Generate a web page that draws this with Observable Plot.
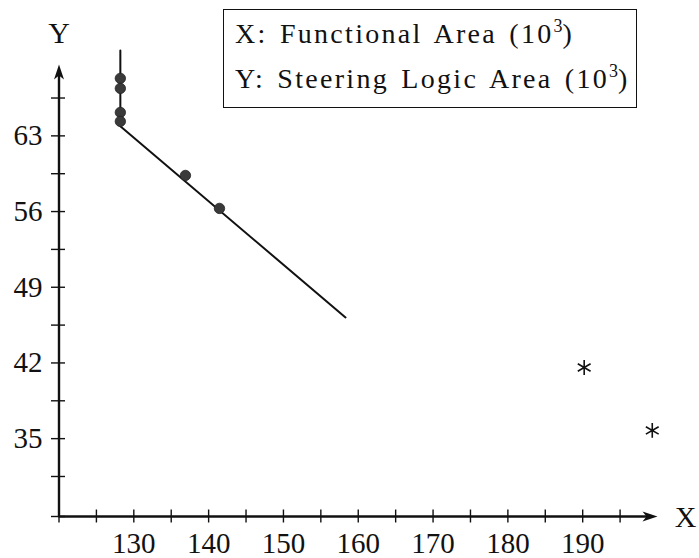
<!DOCTYPE html>
<html>
<head>
<meta charset="utf-8">
<script src="https://cdn.jsdelivr.net/npm/d3@7"></script>
<script src="https://cdn.jsdelivr.net/npm/@observablehq/plot@0.6"></script>
<style>
  body { margin: 0; background: #fff; }
  #wrap { position: relative; width: 699px; height: 558px; }
  #legend {
    position: absolute; left: 223px; top: 9px; width: 401px; height: 94px;
    border: 1.5px solid #111; background: #fff;
    font-family: "Liberation Serif", serif; font-size: 28px; color: #111;
    letter-spacing: 2.3px; word-spacing: 3px;
    padding-left: 11px; box-sizing: content-box; line-height: 42px; padding-top: 3px;
    white-space: nowrap;
  }
  #legend sup { font-size: 18px; vertical-align: 0; position: relative; top: -11px; letter-spacing: 0; }
</style>
</head>
<body>
<div id="wrap"></div>
<script>
// Data
const dotX = [128.2, 128.2, 128.2, 128.2, 136.9, 141.45];
const dotY = [68.32, 67.39, 65.17, 64.34, 59.34, 56.29];
const starX = [190.2, 199.3];
const starY = [41.58, 35.76];
const fitX = [128.2, 128.2, 158.3];
const fitY = [70.9, 63.88, 46.21];
const xTicks = [120, 125, 130, 135, 140, 145, 150, 155, 160, 165, 170, 175, 180, 185, 190, 195];
const xLabels = [130, 140, 150, 160, 170, 180, 190];
const yTicks = [31.5, 35, 38.5, 42, 45.5, 49, 52.5, 56, 59.5, 63, 66.5];
const yLabels = [35, 42, 49, 56, 63];
const xMin = 120, xMax = 200, yMin = 27.8, yMax = 69.6;

const dots = dotX.map((x, i) => ({x, y: dotY[i]}));
const stars = starX.map((x, i) => ({x, y: starY[i]}));
const fit = fitX.map((x, i) => ({x, y: fitY[i]}));

const arrowHead = {
  draw(ctx) {
    ctx.moveTo(0, 0);
    ctx.lineTo(-15, -5);
    ctx.lineTo(-11, 0);
    ctx.lineTo(-15, 5);
    ctx.closePath();
  }
};

const font = "Liberation Serif, serif";
const ink = "#111";

const chart = Plot.plot({
  width: 699,
  height: 558,
  marginLeft: 58.5,
  marginRight: 42,
  marginTop: 64,
  marginBottom: 42,
  x: {domain: [xMin, xMax], axis: null},
  y: {domain: [yMin, yMax], axis: null},
  style: {background: "white", fontFamily: font},
  marks: [
    // axis lines
    Plot.ruleY([yMin], {x1: xMin, x2: xMax - 1.2, stroke: ink, strokeWidth: 2.4}),
    Plot.ruleX([xMin], {y1: yMin, y2: yMax - 1, stroke: ink, strokeWidth: 2.4}),
    // arrow heads
    Plot.dot([{x: xMax, y: yMin}], {x: "x", y: "y", symbol: arrowHead, fill: ink, stroke: "none", r: 5}),
    Plot.dot([{x: xMin, y: yMax}], {x: "x", y: "y", symbol: arrowHead, fill: ink, stroke: "none", r: 5, rotate: -90}),
    // ticks
    Plot.ruleX(xTicks, {x: d => d, y1: yMin, y2: yMin, insetTop: -6.5, insetBottom: -6.5, stroke: ink, strokeWidth: 1.4}),
    Plot.ruleY([yMin, ...yTicks], {y: d => d, x1: xMin, x2: xMin, insetLeft: -7.5, insetRight: -6.5, stroke: ink, strokeWidth: 1.4}),
    // tick labels
    Plot.text(xLabels, {x: d => d, y: yMin, text: d => String(d), dy: 27, fontSize: 29, fill: ink, textAnchor: "middle"}),
    Plot.text(yLabels, {x: xMin, y: d => d, text: d => String(d), dx: -16.5, fontSize: 29, fill: ink, textAnchor: "end"}),
    // axis names
    Plot.text(["X"], {x: xMax, y: yMin, text: d => d, dx: 28, dy: 1, fontSize: 30, fill: ink, textAnchor: "middle"}),
    Plot.text(["Y"], {x: xMin, y: yMax, text: d => d, dy: -31, fontSize: 30, fill: ink, textAnchor: "middle"}),
    // fit line
    Plot.line(fit, {x: "x", y: "y", stroke: ink, strokeWidth: 2}),
    // dots
    Plot.dot(dots, {x: "x", y: "y", r: 5.2, fill: "#3a3a3a", stroke: "#222", strokeWidth: 0.8}),
    // stars
    Plot.dot(stars, {x: "x", y: "y", symbol: "asterisk", r: 7, stroke: ink, strokeWidth: 1.6})
  ]
});

const wrap = document.getElementById("wrap");
wrap.appendChild(chart);
const legend = document.createElement("div");
legend.id = "legend";
legend.innerHTML = "<div>X: Functional Area (10<sup>3</sup>)</div><div>Y: Steering Logic Area (10<sup>3</sup>)</div>";
wrap.appendChild(legend);
</script>
</body>
</html>
